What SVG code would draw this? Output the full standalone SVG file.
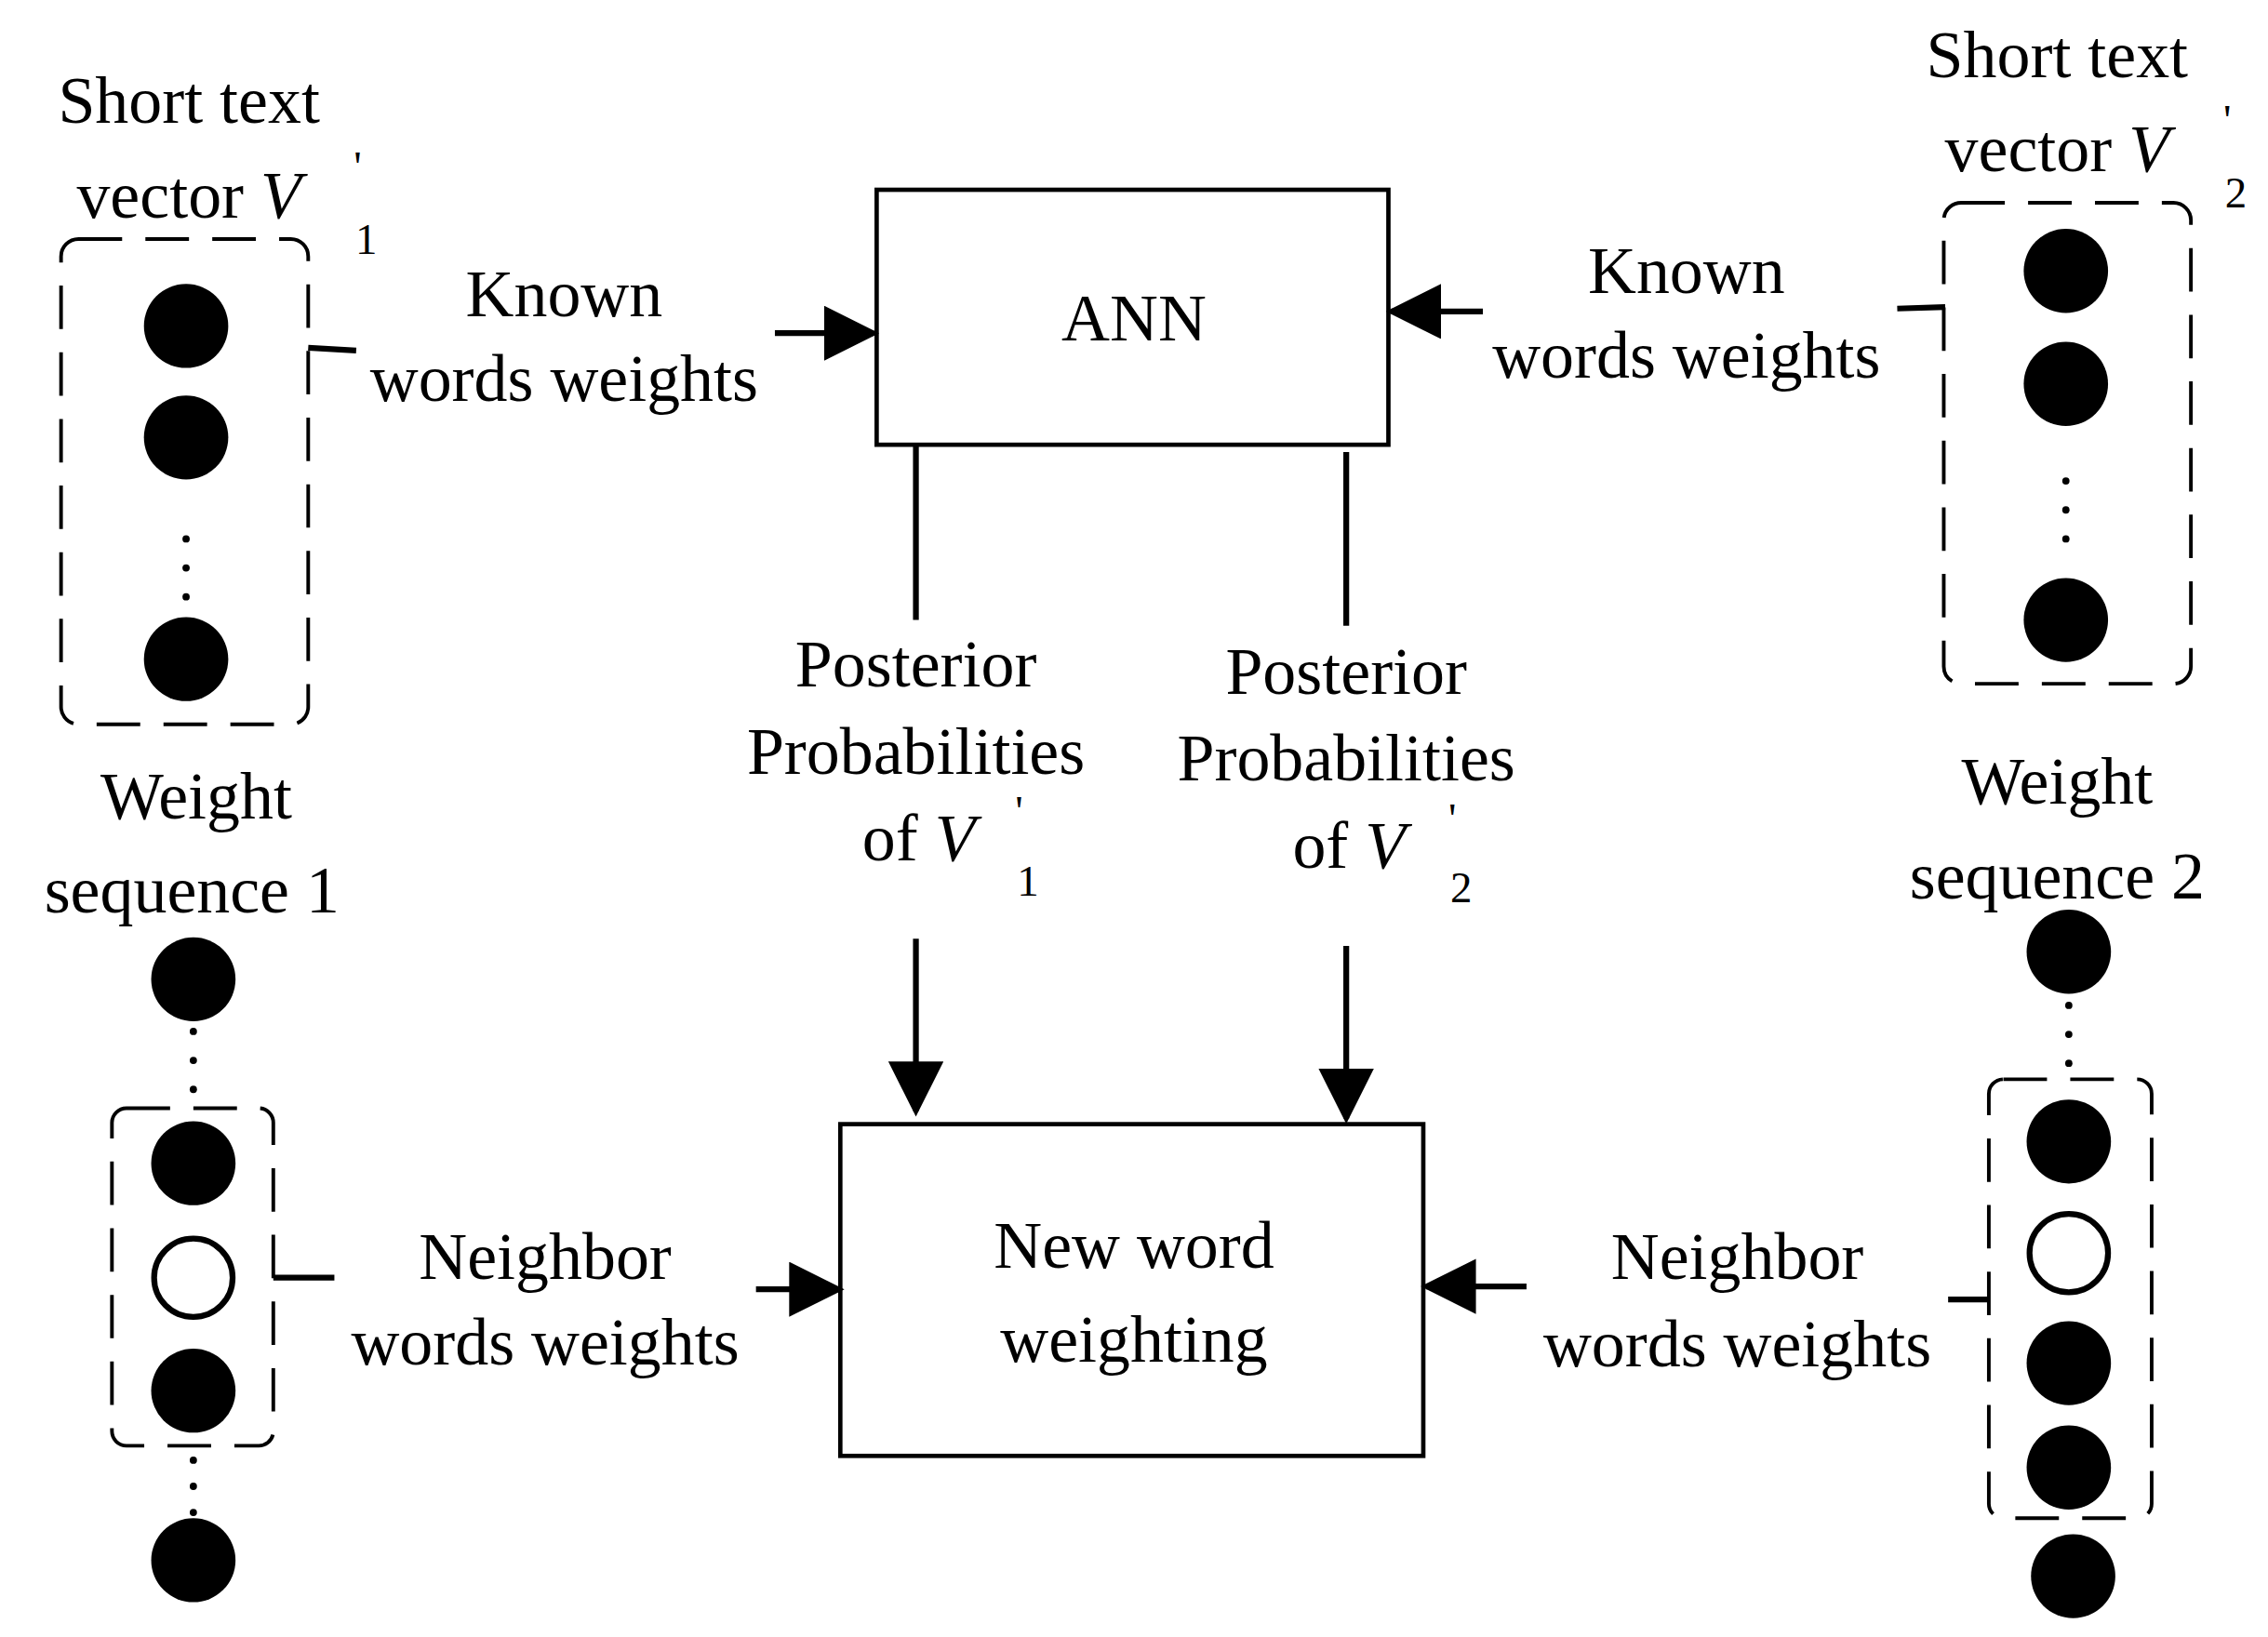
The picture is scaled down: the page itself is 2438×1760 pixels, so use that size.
<svg xmlns="http://www.w3.org/2000/svg" width="2438" height="1760" viewBox="0 0 2438 1760">
<defs>
<style>
text{font-family:"Liberation Serif",serif;font-size:46px;fill:#000;text-anchor:middle}
.it{font-style:italic}
.sm{font-size:30px}
.box{fill:#fff;stroke:#000;stroke-width:3}
.dash{fill:none;stroke:#000;stroke-width:2.5;stroke-dasharray:30 16}
.ln{stroke:#000;stroke-width:4;fill:none}
.f{fill:#000}
.h{fill:#fff;stroke:#000;stroke-width:4}
.d{fill:#000}
</style>
<marker id="ah" viewBox="0 0 10 10" refX="10" refY="5" markerWidth="10" markerHeight="10" markerUnits="userSpaceOnUse" orient="auto"><path d="M0,0L10,5L0,10z"/></marker>
<marker id="a2" viewBox="0 0 10 10" refX="9" refY="5" markerWidth="38" markerHeight="38" markerUnits="userSpaceOnUse" orient="auto"><path d="M0,0L10,5L0,10z"/></marker>
</defs>
<rect width="2438" height="1760" fill="#fff"/>
<g transform="scale(1.5628,1.5575)">
<g id="ann"><rect class="box" x="603" y="131" width="352" height="176"/><text x="780" y="235">ANN</text></g>
<g id="newword"><rect class="box" x="578" y="776" width="401" height="229"/><text x="780" y="875">New word</text><text x="780" y="940">weighting</text></g>
<g id="vec1">
<text x="130" y="85">Short text</text>
<text x="130" y="150">vector <tspan class="it">V</tspan></text><text x="252" y="175" class="sm">1</text><text x="246" y="125" class="sm">'</text>
<rect class="dash" x="42" y="165" width="170" height="335" rx="12"/>
<circle class="f" cx="128" cy="225" r="29"/><circle class="f" cx="128" cy="302" r="29"/>
<circle class="d" cx="128" cy="372" r="2.5"/><circle class="d" cx="128" cy="392" r="2.5"/><circle class="d" cx="128" cy="412" r="2.5"/>
<circle class="f" cx="128" cy="455" r="29"/>
</g>
<g id="vec2">
<text x="1415" y="53">Short text</text>
<text x="1415" y="118">vector <tspan class="it">V</tspan></text><text x="1538" y="143" class="sm">2</text><text x="1532" y="93" class="sm">'</text>
<rect class="dash" x="1337" y="140" width="170" height="332" rx="12"/>
<circle class="f" cx="1421" cy="187" r="29"/><circle class="f" cx="1421" cy="265" r="29"/>
<circle class="d" cx="1421" cy="332" r="2.5"/><circle class="d" cx="1421" cy="352" r="2.5"/><circle class="d" cx="1421" cy="372" r="2.5"/>
<circle class="f" cx="1421" cy="428" r="29"/>
</g>
<g id="seq1">
<text x="135" y="565">Weight</text><text x="132" y="630">sequence 1</text>
<circle class="f" cx="133" cy="676" r="29"/>
<circle class="d" cx="133" cy="712" r="2.5"/><circle class="d" cx="133" cy="732" r="2.5"/><circle class="d" cx="133" cy="752" r="2.5"/>
<rect class="dash" x="77" y="765" width="111" height="233" rx="10"/>
<circle class="f" cx="133" cy="803" r="29"/><circle class="h" cx="133" cy="882" r="27"/><circle class="f" cx="133" cy="960" r="29"/>
<circle class="d" cx="133" cy="1008" r="2.5"/><circle class="d" cx="133" cy="1026" r="2.5"/><circle class="d" cx="133" cy="1044" r="2.5"/>
<circle class="f" cx="133" cy="1077" r="29"/>
</g>
<g id="seq2">
<text x="1415" y="555">Weight</text><text x="1415" y="620">sequence 2</text>
<circle class="f" cx="1423" cy="657" r="29"/>
<circle class="d" cx="1423" cy="694" r="2.5"/><circle class="d" cx="1423" cy="714" r="2.5"/><circle class="d" cx="1423" cy="734" r="2.5"/>
<rect class="dash" x="1368" y="745" width="112" height="303" rx="10"/>
<circle class="f" cx="1423" cy="788" r="29"/><circle class="h" cx="1423" cy="865" r="27"/><circle class="f" cx="1423" cy="941" r="29"/><circle class="f" cx="1423" cy="1013" r="29"/>
<circle class="f" cx="1426" cy="1088" r="29"/>
</g>
<g id="labels">
<text x="388" y="218">Known</text><text x="388" y="277">words weights</text>
<text x="1160" y="202">Known</text><text x="1160" y="261">words weights</text>
<text x="630" y="474">Posterior</text><text x="630" y="534">Probabilities</text>
<text x="632" y="594">of <tspan class="it">V</tspan></text><text x="707" y="618" class="sm">1</text><text x="701" y="570" class="sm">'</text>
<text x="926" y="479">Posterior</text><text x="926" y="539">Probabilities</text>
<text x="928" y="599">of <tspan class="it">V</tspan></text><text x="1005" y="623" class="sm">2</text><text x="999" y="575" class="sm">'</text>
<text x="375" y="883">Neighbor</text><text x="375" y="942">words weights</text>
<text x="1195" y="883">Neighbor</text><text x="1195" y="943">words weights</text>
</g>
<g id="connectors">
<line class="ln" x1="212" y1="240" x2="245" y2="242"/>
<line class="ln" x1="533" y1="230" x2="601" y2="230" marker-end="url(#a2)"/>
<line class="ln" x1="1305" y1="213" x2="1338" y2="212"/>
<line class="ln" x1="1020" y1="215" x2="957" y2="215" marker-end="url(#a2)"/>
<line class="ln" x1="630" y1="307" x2="630" y2="428"/>
<line class="ln" x1="926" y1="312" x2="926" y2="432"/>
<line class="ln" x1="630" y1="648" x2="630" y2="767" marker-end="url(#a2)"/>
<line class="ln" x1="926" y1="653" x2="926" y2="772" marker-end="url(#a2)"/>
<line class="ln" x1="188" y1="882" x2="230" y2="882"/>
<line class="ln" x1="520" y1="890" x2="577" y2="890" marker-end="url(#a2)"/>
<line class="ln" x1="1340" y1="897" x2="1368" y2="897"/>
<line class="ln" x1="1050" y1="888" x2="981" y2="888" marker-end="url(#a2)"/>
</g>
</g>
</svg>
